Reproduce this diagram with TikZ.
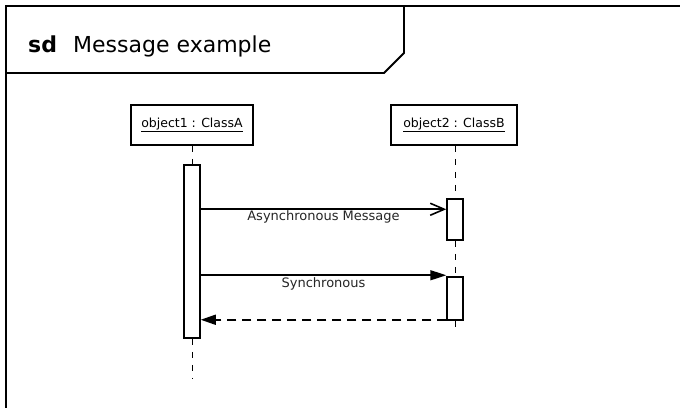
\documentclass[tikz,border=0pt]{standalone}
\usepackage{fontspec}
\setmainfont{DejaVu Sans}
\usetikzlibrary{arrows.meta}
\begin{document}
\begin{tikzpicture}[x=1pt,y=-1pt,
  objbox/.style={draw,line width=1.6pt,fill=white,minimum height=40pt,inner sep=0pt,
    font=\fontsize{12.5}{14}\selectfont},
  actbar/.style={draw,line width=1.5pt,fill=white,inner sep=0pt,minimum width=16pt},
  lifeline/.style={line width=0.9pt,dash pattern=on 6pt off 7pt},
  msg/.style={line width=1.6pt},
  msglabel/.style={font=\fontsize{13}{15}\selectfont,inner sep=0pt,text=black!85},
  titletext/.style={anchor=base west,inner sep=0pt,font=\fontsize{22}{25}\selectfont}
]
\useasboundingbox (0,0) rectangle (680,407);
\fill[white] (0,0) rectangle (680,407);

% diagram frame (open to the right and bottom)
\begin{scope}
  \clip (0,0) rectangle (680,407);
  \draw[line width=2.2pt] (6,430) -- (6,6) -- (700,6);
\end{scope}

% name tab
\draw[line width=1.8pt] (404,6) -- (404,53) -- (384,73) -- (6,73);
\node[titletext] (kw) at (28,52) {\bfseries sd};
\node[titletext] (title) at (73,52) {Message example};

% participants
\node[objbox,minimum width=122pt] (objA) at (192,125) {\underline{object1 : ClassA}};
\node[objbox,minimum width=126pt] (objB) at (454,125) {\underline{object2 : ClassB}};

% activation bars
\node[actbar,minimum height=173pt] (actA) at (192,251.5) {};
\node[actbar,minimum height=41pt] (actB1) at (455,219.5) {};
\node[actbar,minimum height=43pt] (actB2) at (455,298.5) {};

\coordinate (endA) at (192,378);
\coordinate (endB) at (455,333);

% lifelines
\draw[lifeline] (objA.south) -- (actA.north);
\draw[lifeline] (actA.south) -- (endA);
\draw[lifeline] (objB.south -| actB1.north) -- (actB1.north);
\draw[lifeline] (actB1.south) -- (actB2.north);
\draw[lifeline] (actB2.south) -- (endB);

% asynchronous message
\draw[msg,-{Straight Barb[length=14pt,width=12pt]}]
  ([yshift=-11pt]actB1.north west -| actA.east) -- ([yshift=-11pt]actB1.north west)
  node[msglabel,midway,below=1pt] {Asynchronous Message};

% synchronous call
\draw[msg,-{Triangle[length=16pt,width=10pt]}]
  ([yshift=1pt]actB2.north west -| actA.east) -- ([yshift=1pt]actB2.north west)
  node[msglabel,midway,below=2pt] {Synchronous};

% reply
\draw[msg,dash pattern=on 9pt off 6pt,-{Triangle[length=15pt,width=10pt]}]
  ([yshift=1pt]actB2.south west) -- ([yshift=1pt]actB2.south west -| actA.east);
\end{tikzpicture}
\end{document}
